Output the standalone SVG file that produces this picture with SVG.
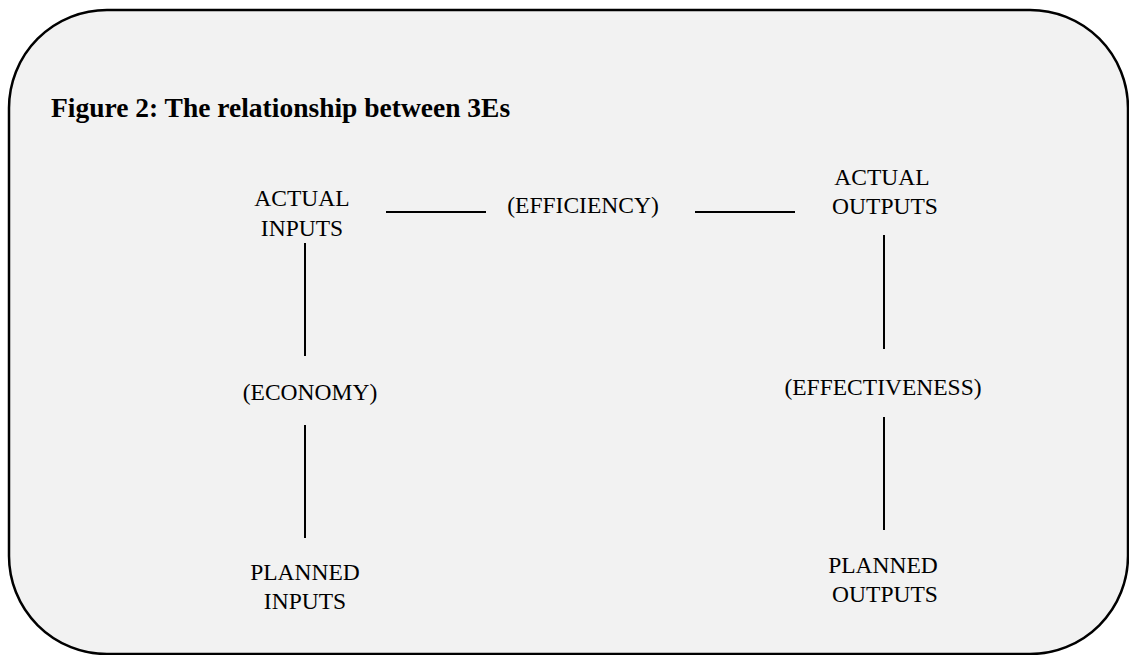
<svg xmlns="http://www.w3.org/2000/svg" width="1129" height="655" viewBox="0 0 1129 655">
  <style>
    .lbl { font-family: "Liberation Serif", "Times New Roman", serif; font-size: 23.5px; fill: #000; text-anchor: middle; }
    .title { font-family: "Liberation Serif", "Times New Roman", serif; font-size: 27.5px; font-weight: bold; fill: #000; }
    .link { stroke: #000; stroke-width: 2; fill: none; }
  </style>
  <rect width="1129" height="655" fill="#ffffff"/>
  <!-- rounded panel -->
  <rect id="panel" x="9" y="10" width="1119" height="644" rx="98" ry="98" fill="#f2f2f2" stroke="#000" stroke-width="2.5"/>
  <text id="title" class="title" x="51" y="117">Figure 2: The relationship between 3Es</text>

  <g id="actual-inputs">
    <text class="lbl" x="302" y="206">ACTUAL</text>
    <text class="lbl" x="302" y="236">INPUTS</text>
  </g>
  <g id="efficiency">
    <text class="lbl" x="583" y="213">(EFFICIENCY)</text>
  </g>
  <g id="actual-outputs">
    <text class="lbl" x="882" y="185">ACTUAL</text>
    <text class="lbl" x="885" y="214">OUTPUTS</text>
  </g>
  <g id="economy">
    <text class="lbl" x="310" y="400">(ECONOMY)</text>
  </g>
  <g id="effectiveness">
    <text class="lbl" x="883" y="395">(EFFECTIVENESS)</text>
  </g>
  <g id="planned-inputs">
    <text class="lbl" x="305" y="580">PLANNED</text>
    <text class="lbl" x="305" y="609">INPUTS</text>
  </g>
  <g id="planned-outputs">
    <text class="lbl" x="883" y="573">PLANNED</text>
    <text class="lbl" x="885" y="602">OUTPUTS</text>
  </g>

  <g id="connectors">
    <line class="link" x1="386" y1="212" x2="486" y2="212"/>
    <line class="link" x1="695" y1="212" x2="795" y2="212"/>
    <line class="link" x1="305" y1="243" x2="305" y2="356"/>
    <line class="link" x1="305" y1="425" x2="305" y2="538"/>
    <line class="link" x1="884" y1="235" x2="884" y2="349"/>
    <line class="link" x1="884" y1="417" x2="884" y2="530"/>
  </g>
</svg>
